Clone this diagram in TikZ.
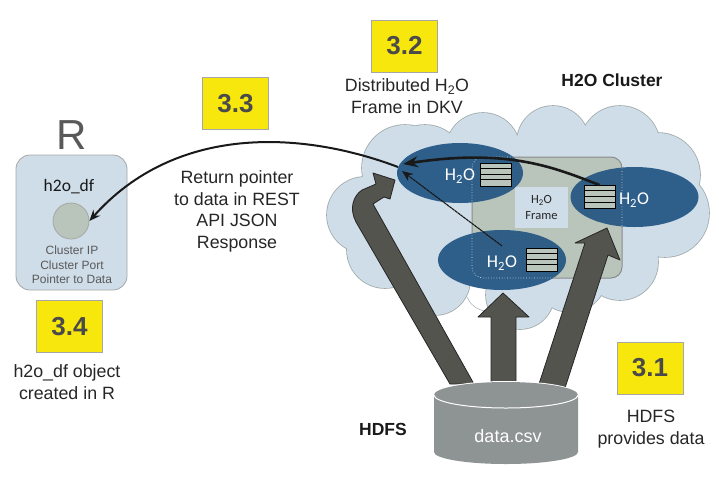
\documentclass[tikz,border=0pt]{standalone}
\usepackage{fontspec}
\setmainfont{Liberation Sans}
\newfontfamily\calfont{Carlito}
\usetikzlibrary{arrows.meta,patterns}
\definecolor{cloudc}{HTML}{CFDDE8}
\definecolor{cloude}{HTML}{9FAAAA}
\definecolor{framec}{HTML}{B9C5BB}
\definecolor{ellc}{HTML}{2E5F8A}
\definecolor{blockc}{HTML}{53544E}
\definecolor{yell}{HTML}{F8E70D}
\definecolor{ygrey}{HTML}{4A4A4A}
\definecolor{cyl}{HTML}{8E9394}
\tikzset{
 tagbox/.style={fill=yell,draw=black!35,line width=.5pt,minimum width=66pt,minimum height=52pt,inner sep=0pt,font=\fontsize{26}{26}\selectfont\bfseries,text=ygrey,anchor=center},
 captext/.style={font=\fontsize{17.8}{21.6}\selectfont,align=center,text=black!85,inner sep=0pt},
 bcaptext/.style={font=\fontsize{17.5}{22}\selectfont\bfseries,text=black!90,inner sep=0pt},
 h2olabel/.style={font=\calfont\fontsize{18}{18}\selectfont,text=white,inner sep=0pt},
 blockarrow/.style={fill=blockc,draw=black!85,line width=.8pt,line join=round},
 stackbox/.style={fill=framec,draw=black,line width=1pt,minimum width=31pt,minimum height=23pt,inner sep=0pt},
 ptr/.style={draw=black!90,-{Stealth[length=11pt,width=9pt]}},
}
\newcommand{\cloudshape}{
 (405,168) circle (43) (425,165) circle (40) (483,150) circle (37) (553,142) circle (36) (620,146) circle (40)
 (658,175) circle (42) (665,213) circle (44) (620,262) circle (38) (570,275) circle (37)
 (520,295) circle (34) (435,280) circle (35) (385,250) circle (38) (365,215) circle (38)
 (500,220) circle (60) (580,210) circle (60) (440,230) circle (50)
}
\newcommand{\stacklines}[1]{
 \draw[black,line width=.8pt] ([yshift=-5.75pt]#1.north west) -- ([yshift=-5.75pt]#1.north east)
   ([yshift=-11.5pt]#1.north west) -- ([yshift=-11.5pt]#1.north east)
   ([yshift=-17.25pt]#1.north west) -- ([yshift=-17.25pt]#1.north east);
}
\begin{document}
\begin{tikzpicture}[x=1pt,y=-1pt]
\useasboundingbox (0,0) rectangle (719,485);
% cloud
\draw[cloude,line width=1.6pt,fill=cloude] \cloudshape;
\fill[cloudc] \cloudshape;
\draw[cloude,line width=.5pt] (467,297) .. controls (472,308) and (480,310) .. (488,312);
% frame
\node[draw=black!45,fill=framec,line width=1pt,rounded corners=11pt,minimum width=150pt,minimum height=121pt,inner sep=0pt] (frame) at (547,217.5) {};
\node[fill=cloudc,minimum width=53pt,minimum height=41pt,inner sep=0pt,align=center,font=\calfont\fontsize{12.5}{16}\selectfont,text=black!85] (framelab) at (541.5,207.5) {H\textsubscript{2}O\\Frame};
% ellipses
\fill[ellc] (460,173) ellipse (63 and 30);
\fill[ellc] (634.5,197) ellipse (64 and 30);
\fill[ellc] (502,260) ellipse (64 and 30);
\foreach \cc/\rr in {{(460,173)}/{(63 and 30)},{(634.5,197)}/{(64 and 30)},{(502,260)}/{(64 and 30)}}{
 \begin{scope}
  \clip \cc ellipse \rr;
  \fill[pattern=dots,pattern color=black!70,rounded corners=11pt] (472,157) rectangle (622,278);
  \draw[white!80!ellc,line width=.7pt,dotted,rounded corners=11pt] (472,157) rectangle (622,278);
 \end{scope}
}
\node[h2olabel] (la) at (460,176) {H\textsubscript{2}O};
\node[h2olabel] (lb) at (634,200) {H\textsubscript{2}O};
\node[h2olabel] (lc) at (502,263) {H\textsubscript{2}O};
\node[stackbox] (sa) at (495.5,174.5) {}; \stacklines{sa}
\node[stackbox] (sb) at (599.5,197) {}; \stacklines{sb}
\node[stackbox] (sc) at (541.5,259.5) {}; \stacklines{sc}
% block arrows
\draw[blockarrow] (450,384) -- (356,222) .. controls (349,209) and (353,196) .. (362,190) -- (376,184) -- (373,173) -- (395,180) -- (390,199) -- (384,197) -- (373,204) -- (474,384) -- cycle;
\draw[blockarrow] (491,384) -- (491,317) -- (478,317) -- (503,293) -- (529,317) -- (516,317) -- (516,384) -- cycle;
\draw[blockarrow] (539,384) -- (585,243) -- (575,243) -- (607,228) -- (620,260) -- (608,255) -- (565,388) -- cycle;
% cylinder
\fill[white] (433,395) -- (433,452) arc[start angle=180,end angle=0,x radius=73,y radius=14] -- (579,395) arc[start angle=0,end angle=-180,x radius=73,y radius=14] -- cycle;
\fill[cyl] (434,395) -- (434,452) arc[start angle=180,end angle=0,x radius=72,y radius=12] -- (578,395) arc[start angle=0,end angle=-180,x radius=72,y radius=13] -- cycle;
\draw[white,line width=1pt] (434,395) arc[start angle=180,end angle=0,x radius=72,y radius=13];
\node[font=\fontsize{18}{18}\selectfont,text=white,inner sep=0pt] (csv) at (508,436) {data.csv};
% R object
\node[draw=black!35,fill=cloudc,line width=.8pt,rounded corners=14pt,minimum width=111pt,minimum height=135pt,inner sep=0pt] (rbox) at (71.5,222.5) {};
\node[font=\fontsize{42}{42}\selectfont,text=black!65,inner sep=0pt] (rlab) at (72,135) {R};
\node[font=\calfont\fontsize{17.5}{17.5}\selectfont,text=black!90,inner sep=0pt] (df) at (69,187) {h2o\_df};
\node[circle,draw=black!35,fill=framec,line width=.8pt,minimum size=36pt,inner sep=0pt] (dfc) at (71,221) {};
\node[font=\fontsize{12}{14.5}\selectfont,align=center,text=black!65,inner sep=0pt] (dft) at (72,265) {Cluster IP\\Cluster Port\\Pointer to Data};
% pointers
\coordinate (pa) at (403,164);
\coordinate (pb) at (402,171);
\coordinate (pc) at (398,167);
\coordinate (ps) at (502,246);
\draw[ptr,line width=2.6pt,-{Stealth[length=15pt,width=11pt]}] (sb.north) .. controls (555,168) and (510,148) .. (pa);
\draw[ptr,line width=1.1pt,dash pattern=on 3pt off .5pt] (ps) -- (pb);
\draw[ptr,line width=2pt] (pc) .. controls (300,130) and (175,125) .. (dfc.east);
% tags
\node[tagbox] (t31) at (650,368) {3.1};
\node[tagbox] (t32) at (404.5,46) {3.2};
\node[tagbox] (t33) at (235.5,103.5) {3.3};
\node[tagbox] (t34) at (69.5,326.5) {3.4};
% captions
\node[captext] (c32) at (407,96) {Distributed H\textsubscript{2}O\\Frame in DKV};
\node[bcaptext] (cl) at (612,80) {H2O Cluster};
\node[captext] (c33) at (237,211.5) {Return pointer\\to data in REST\\API JSON\\Response};
\node[captext] (c34) at (67,382) {h2o\_df object\\created in R};
\node[bcaptext] (hd) at (383,429) {HDFS};
\node[captext] (c31) at (651,429) {HDFS\\provides data};
\end{tikzpicture}
\end{document}
